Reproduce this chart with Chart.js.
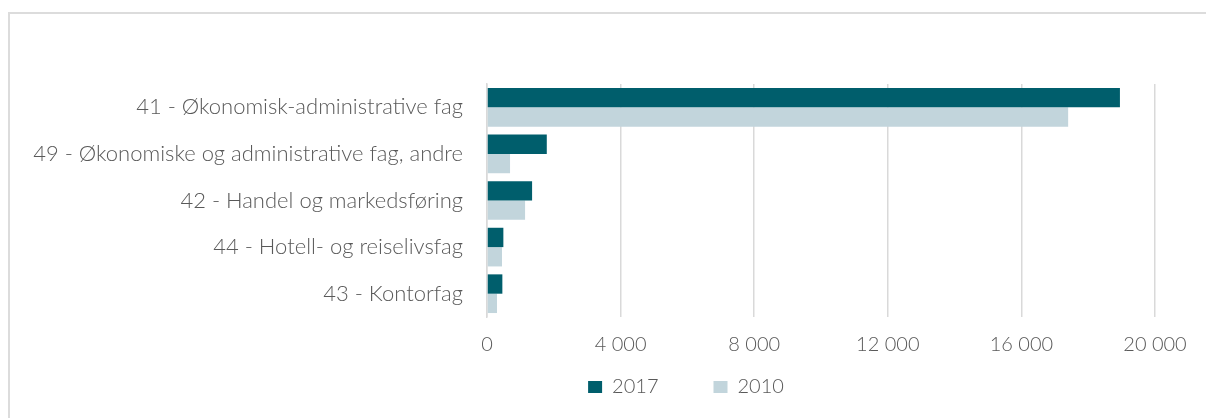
<!DOCTYPE html>
<html lang="no">
<head>
    <meta charset="UTF-8">
    <title>Studenter per fagfelt</title>
    <script src="https://cdn.jsdelivr.net/npm/chart.js"></script>
    <style>
        body {
            margin: 0;
            background: #fff;
            overflow: hidden;
        }
        .frame {
            position: absolute;
            left: 8px;
            top: 12px;
            width: 1220px;
            height: 430px;
            border: 2px solid #dcdcdc;
        }
        #chart {
            position: absolute;
            left: 0;
            top: 0;
        }
    </style>
</head>
<body>
    <div class="frame"></div>
    <canvas id="chart" width="1206" height="418"></canvas>

    <script>
        // Data
        const categories = [
            '41 - Økonomisk-administrative fag',
            '49 - Økonomiske og administrative fag, andre',
            '42 - Handel og markedsføring',
            '44 - Hotell- og reiselivsfag',
            '43 - Kontorfag'
        ];
        const seriesNames = ['2017', '2010'];
        const values2017 = [18950, 1790, 1350, 490, 460];
        const values2010 = [17400, 690, 1140, 450, 300];
        const xMax = 20000;
        const xStep = 4000;

        const textColor = '#595959';
        const gridColor = '#d9d9d9';
        const fontFamily = 'Lato, "Open Sans", sans-serif';
        const padLeft = 10;
        const legendCenter = 686;

        function formatThousands(v) {
            return String(v).replace(/\B(?=(\d{3})+(?!\d))/g, ' ');
        }

        // move the bottom legend so it sits a bit right of the middle, like the original
        const legendShift = {
            id: 'legendShift',
            afterLayout: function (chart) {
                const lg = chart.legend;
                if (!lg) return;
                const dx = legendCenter - (lg.left + lg.right) / 2;
                lg.left += dx;
                lg.right += dx;
            }
        };

        var ctx = document.getElementById('chart').getContext('2d');
        var chart = new Chart(ctx, {
            type: 'bar',
            data: {
                labels: categories,
                datasets: [
                    {
                        label: seriesNames[0],
                        data: values2017,
                        backgroundColor: '#005e6c',
                        borderWidth: 0
                    },
                    {
                        label: seriesNames[1],
                        data: values2010,
                        backgroundColor: '#c2d5dc',
                        borderWidth: 0
                    }
                ]
            },
            options: {
                indexAxis: 'y',
                responsive: false,
                animation: false,
                layout: {
                    padding: { top: 84, left: padLeft, right: 51, bottom: 11 }
                },
                datasets: {
                    bar: {
                        categoryPercentage: 0.83,
                        barPercentage: 1.0
                    }
                },
                scales: {
                    x: {
                        min: 0,
                        max: xMax,
                        ticks: {
                            stepSize: xStep,
                            color: textColor,
                            padding: 16,
                            font: { family: fontFamily, size: 20, weight: 300 },
                            callback: function (value) { return formatThousands(value); }
                        },
                        grid: {
                            color: gridColor,
                            lineWidth: 1.5,
                            drawTicks: false
                        },
                        border: { display: false },
                        afterFit: function (scale) { scale.height = 50; }
                    },
                    y: {
                        ticks: {
                            color: textColor,
                            padding: 24,
                            font: { family: fontFamily, size: 22, weight: 300 }
                        },
                        grid: { display: false, drawTicks: false },
                        border: { display: true, color: gridColor, width: 1.5 },
                        afterFit: function (scale) { scale.width = 487 - padLeft; }
                    }
                },
                plugins: {
                    legend: {
                        position: 'bottom',
                        labels: {
                            color: textColor,
                            boxWidth: 14,
                            boxHeight: 12,
                            padding: 10,
                            font: { family: fontFamily, size: 20, weight: 300 },
                            // wider gap between the two legend entries
                            generateLabels: function (chart) {
                                const items = Chart.defaults.plugins.legend.labels.generateLabels(chart);
                                items.forEach(function (item, i) {
                                    if (i < items.length - 1) item.text = item.text + '\u2003\u2003\u2003';
                                });
                                return items;
                            }
                        }
                    },
                    tooltip: { enabled: false }
                }
            },
            plugins: [legendShift]
        });
    </script>
</body>
</html>
